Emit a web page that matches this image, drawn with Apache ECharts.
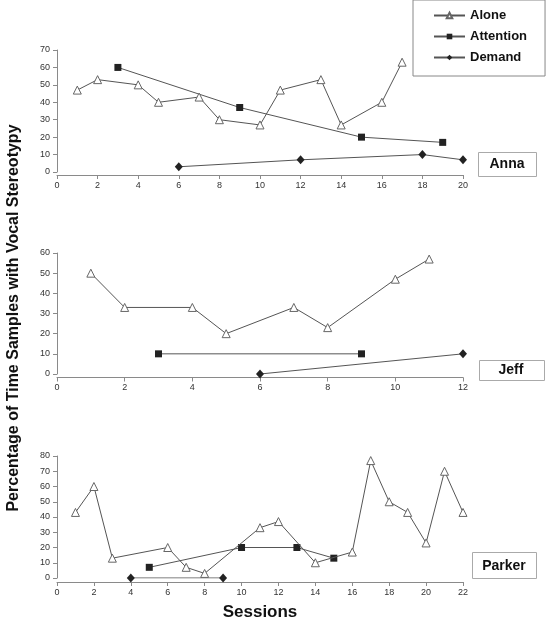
<!DOCTYPE html>
<html><head><meta charset="utf-8">
<script src="https://cdn.jsdelivr.net/npm/echarts@6/dist/echarts.min.js"></script>
<style>html,body{margin:0;padding:0;background:#fff}#c{width:546px;height:621px}</style>
</head><body><div id="c"></div>
<script>
// ---- data ----
const annaAlone = [[1,47],[2,53],[4,50],[5,40],[7,43],[8,30],[10,27],[11,47],[13,53],[14,27],[16,40],[17,63]];
const annaAttention = [[3,60],[9,37],[15,20],[19,17]];
const annaDemand = [[6,3],[12,7],[18,10],[20,7]];
const jeffAlone = [[1,50],[2,33],[4,33],[5,20],[7,33],[8,23],[10,47],[11,57]];
const jeffAttention = [[3,10],[9,10]];
const jeffDemand = [[6,0],[12,10]];
const parkerAlone = [[1,43],[2,60],[3,13],[6,20],[7,7],[8,3],[11,33],[12,37],[14,10],[16,17],[17,77],[18,50],[19,43],[20,23],[21,70],[22,43]];
const parkerAttention = [[5,7],[10,20],[13,20],[15,13]];
const parkerDemand = [[4,0],[9,0]];
const panelNames = ['Anna','Jeff','Parker'];
const xMax = [20,12,22];
const yMax = [70,60,80];
const seriesNames = ['Alone','Attention','Demand'];
const yTitle = 'Percentage of Time Samples with Vocal Stereotypy';
const xTitle = 'Sessions';

// ---- layout ----
const grids = [
  {left:57, width:406, top:50, height:122},
  {left:57, width:406, top:253, height:121},
  {left:57, width:406, top:456, height:122}
];
const xOffsets = [3,3.5,4];
const labelFont = {fontFamily:'Liberation Sans, Arial, sans-serif', fontSize:9, color:'#333'};
const axisLineStyle = {color:'#8a8a8a', width:1};

const xAxes = grids.map((g,i)=>({
  type:'value', gridIndex:i, min:0, max:xMax[i], interval:2, offset:xOffsets[i],
  axisLine:{show:true, onZero:false, lineStyle:axisLineStyle},
  axisTick:{show:true, inside:false, length:4, lineStyle:axisLineStyle},
  axisLabel:Object.assign({margin:6}, labelFont),
  splitLine:{show:false}
}));
const yAxes = grids.map((g,i)=>({
  type:'value', gridIndex:i, min:0, max:yMax[i], interval:10,
  axisLine:{show:true, lineStyle:axisLineStyle},
  axisTick:{show:true, length:4, lineStyle:axisLineStyle},
  axisLabel:Object.assign({margin:7}, labelFont),
  splitLine:{show:false}
}));

const lineColor = '#555';
const styles = {
  Alone:{symbol:'triangle', symbolSize:8, itemStyle:{color:'#fff', borderColor:'#666', borderWidth:1}},
  Attention:{symbol:'rect', symbolSize:7, itemStyle:{color:'#222', borderColor:'#222', borderWidth:0}},
  Demand:{symbol:'diamond', symbolSize:[8,9], itemStyle:{color:'#222', borderColor:'#222', borderWidth:0}}
};
const dataSets = [
  [annaAlone, annaAttention, annaDemand],
  [jeffAlone, jeffAttention, jeffDemand],
  [parkerAlone, parkerAttention, parkerDemand]
];
const series = [];
dataSets.forEach((sets,i)=>{
  sets.forEach((d,j)=>{
    const nm = seriesNames[j];
    series.push(Object.assign({
      type:'line', name:nm, xAxisIndex:i, yAxisIndex:i, data:d,
      lineStyle:{color:lineColor, width:1}, showSymbol:true, animation:false,
      emphasis:{disabled:true}, z: 3 - j
    }, styles[nm]));
  });
});

const boxes = [
  {x:478, y:152, w:58, h:24, tx:507, ty:164},
  {x:479, y:360, w:65, h:20, tx:511, ty:370},
  {x:472, y:552, w:64, h:26, tx:504, ty:566}
];
const graphic = [];
boxes.forEach((b,i)=>{
  graphic.push({type:'rect', shape:{x:b.x+0.5, y:b.y+0.5, width:b.w, height:b.h},
    style:{fill:'#fff', stroke:'#aaa', lineWidth:1}, z:10});
  graphic.push({type:'text', x:b.tx, y:b.ty, z:11,
    style:{text:panelNames[i], fill:'#111', font:'bold 14px Liberation Sans, Arial, sans-serif',
      textAlign:'center', textVerticalAlign:'middle'}});
});
graphic.push({type:'text', x:14, y:318, rotation:Math.PI/2, z:11,
  style:{text:yTitle, fill:'#111', font:'bold 16px Liberation Sans, Arial, sans-serif',
    textAlign:'center', textVerticalAlign:'middle'}});
graphic.push({type:'text', x:260, y:612, z:11,
  style:{text:xTitle, fill:'#111', font:'bold 17px Liberation Sans, Arial, sans-serif',
    textAlign:'center', textVerticalAlign:'middle'}});

const chart = echarts.init(document.getElementById('c'), null, {renderer:'canvas'});
chart.setOption({
  backgroundColor:'#fff',
  animation:false,
  grid:grids,
  xAxis:xAxes,
  yAxis:yAxes,
  series:series,
  graphic:graphic,
  legend:{
    data:seriesNames, orient:'vertical', left:413, top:0,
    padding:[8,18,11,20], itemGap:6, itemWidth:31, itemHeight:7,
    borderColor:'#888', borderWidth:1, backgroundColor:'#fff',
    textStyle:{fontFamily:'Liberation Sans, Arial, sans-serif', fontSize:13, fontWeight:'bold', color:'#111', lineHeight:15},
    selectedMode:false, z:20
  }
});
</script></body></html>
